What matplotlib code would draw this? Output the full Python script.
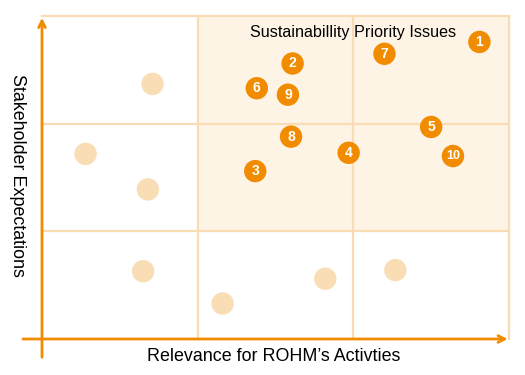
"""
Materiality matrix: stakeholder expectations vs relevance for ROHM
"""

import matplotlib.pyplot as plt
from matplotlib.patches import Rectangle

plt.rcParams["font.family"] = ["Liberation Sans", "DejaVu Sans"]

# priority issues (numbered)
issue_ids = ["1", "2", "3", "4", "5", "6", "7", "8", "9", "10"]
issue_x = [2.81, 1.61, 1.37, 1.97, 2.50, 1.38, 2.20, 1.60, 1.58, 2.64]
issue_y = [2.76, 2.56, 1.56, 1.73, 1.97, 2.33, 2.65, 1.88, 2.27, 1.70]

# other issues (unlabelled)
other_x = [0.71, 0.28, 0.68, 0.65, 1.16, 1.82, 2.27]
other_y = [2.37, 1.72, 1.39, 0.63, 0.33, 0.56, 0.64]

orange = "#F18C00"
light = "#F9DDB5"
grid_c = "#FADCB4"
shade = "#FDF4E5"

fig = plt.figure(figsize=(5.25, 3.75), dpi=100)
ax = fig.add_axes([0.08, 0.096, 0.8895, 0.861])
ax.set_xlim(0, 3)
ax.set_ylim(0, 3)
ax.axis("off")

# shaded priority area
ax.add_patch(Rectangle((1, 1), 2, 2, facecolor=shade, edgecolor="none", zorder=0))

# grid lines
for v in [1, 2, 3]:
    ax.plot([v, v], [0, 3], color=grid_c, lw=1.6, zorder=1, clip_on=False)
    ax.plot([0, 3], [v, v], color=grid_c, lw=1.6, zorder=1, clip_on=False)

# axes arrows
ax.annotate("", xy=(0, 3.01), xytext=(0, -0.195),
            arrowprops=dict(arrowstyle="->", color=orange, lw=2, mutation_scale=12),
            annotation_clip=False, zorder=3)
ax.annotate("", xy=(3.01, 0), xytext=(-0.14, 0),
            arrowprops=dict(arrowstyle="->", color=orange, lw=2, mutation_scale=12),
            annotation_clip=False, zorder=3)

# points
ax.scatter(other_x, other_y, s=260, color=light, edgecolors="none", zorder=4)
ax.scatter(issue_x, issue_y, s=260, color=orange, edgecolors="none", zorder=5)
for t, x, y in zip(issue_ids, issue_x, issue_y):
    ax.text(x, y, t, color="white", fontsize=10 if len(t) == 1 else 9,
            fontweight="bold", ha="center", va="center", zorder=6)

ax.text(2.0, 2.85, "Sustainabillity Priority Issues", fontsize=11.6,
        ha="center", va="center", zorder=6)

fig.text(0.522, 0.05, "Relevance for ROHM\u2019s Activties", fontsize=12.9,
         ha="center", va="center")
fig.text(0.034, 0.531, "Stakeholder Expectations", fontsize=12.9,
         rotation=270, ha="center", va="center")

fig.savefig("out.png", dpi=100)
